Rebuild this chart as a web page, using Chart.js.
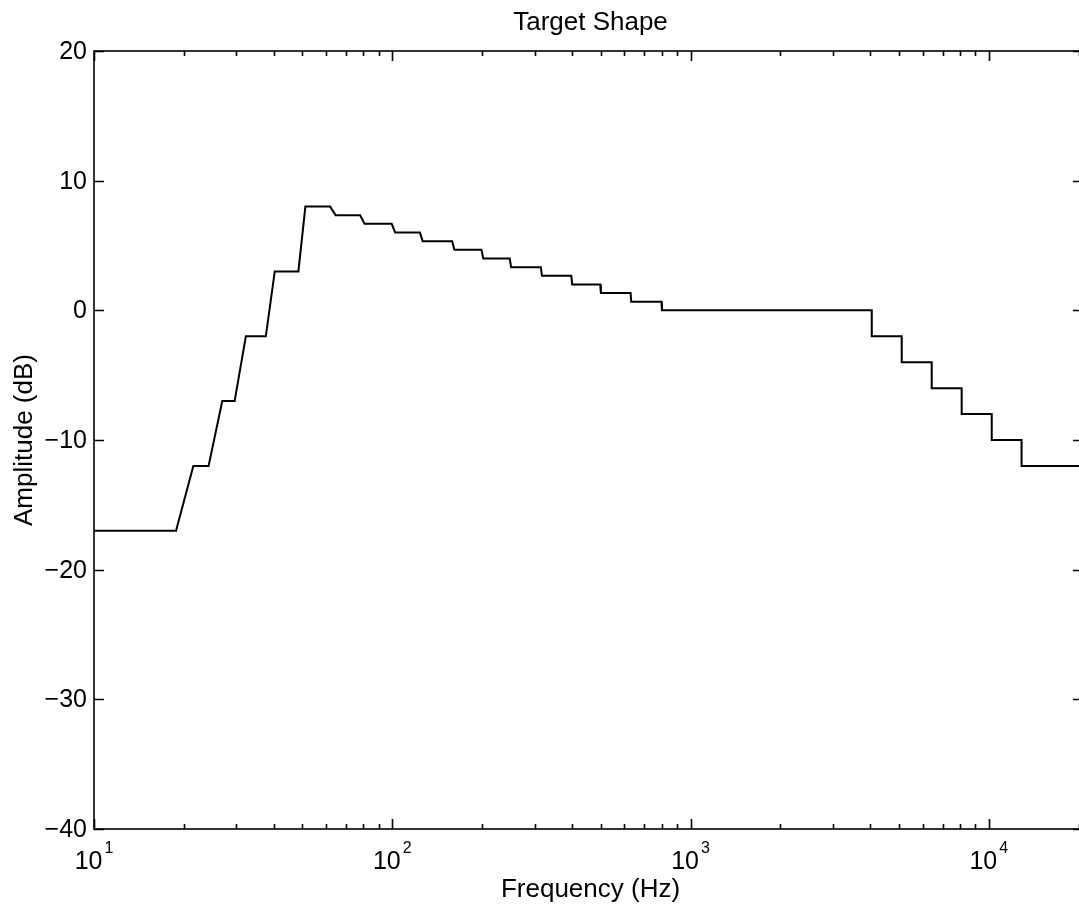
<!DOCTYPE html>
<html>
<head>
<meta charset="utf-8">
<script src="https://cdn.jsdelivr.net/npm/chart.js@4/dist/chart.umd.min.js"></script>
<style>
  html, body { margin: 0; padding: 0; background: #fff; overflow: hidden; }
  canvas { display: block; }
</style>
</head>
<body>
<canvas id="chart" width="1100" height="911"></canvas>
<script>
// corner points of the target curve
const freqHz = [
  10, 18.84, 21.53, 24.22, 26.92, 29.61, 32.30, 37.68, 40.37, 48.45,
  51.14, 61.91, 64.60, 78.06, 80.75, 99.59, 102.28, 123.82, 126.51, 158.81,
  161.50, 199.18, 201.88, 247.64, 250.33, 314.93, 317.62, 398.37, 401.07, 497.97,
  500.66, 629.86, 632.55, 799.43, 802.13, 4050, 4053, 5105, 5108, 6435,
  6438, 8110, 8113, 10230, 10233, 12880, 12883, 22050
];
const ampDb = [
  -17, -17, -12, -12, -7, -7, -2, -2, 3, 3,
  8, 8, 7.33, 7.33, 6.67, 6.67, 6.0, 6.0, 5.33, 5.33,
  4.67, 4.67, 4.0, 4.0, 3.33, 3.33, 2.67, 2.67, 2.0, 2.0,
  1.33, 1.33, 0.67, 0.67, 0, 0, -2, -2, -4, -4,
  -6, -6, -8, -8, -10, -10, -12, -12
];
const xTickExps = [1, 2, 3, 4];
const yTicks = [-40, -30, -20, -10, 0, 10, 20];

const FONT = '"Liberation Sans", Arial, Helvetica, sans-serif';

// MATLAB-like box with inward ticks and 10^n labels
const axisFrame = {
  id: 'axisFrame',
  afterDraw(chart) {
    const { ctx, chartArea: a, scales: { x, y } } = chart;
    ctx.save();
    ctx.strokeStyle = '#000';
    ctx.fillStyle = '#000';
    ctx.lineWidth = 1.6;
    ctx.strokeRect(a.left, a.top, a.right - a.left, a.bottom - a.top);

    ctx.beginPath();
    xTickExps.forEach(e => {
      for (let m = 1; m <= 9; m++) {
        const v = m * Math.pow(10, e);
        if (v < x.min || v > x.max) continue;
        const px = Math.round(x.getPixelForValue(v)) + 0.5;
        const len = m === 1 ? 10 : 5;
        ctx.moveTo(px, a.bottom); ctx.lineTo(px, a.bottom - len);
        ctx.moveTo(px, a.top); ctx.lineTo(px, a.top + len);
      }
    });
    yTicks.forEach(v => {
      const py = Math.round(y.getPixelForValue(v)) + 0.5;
      ctx.moveTo(a.left, py); ctx.lineTo(a.left + 10, py);
      ctx.moveTo(a.right, py); ctx.lineTo(a.right - 10, py);
    });
    ctx.stroke();

    // y tick labels
    ctx.font = '25px ' + FONT;
    ctx.textAlign = 'right';
    ctx.textBaseline = 'middle';
    yTicks.forEach(v => {
      const label = v < 0 ? '\u2212' + Math.abs(v) : String(v);
      ctx.fillText(label, a.left - 7, y.getPixelForValue(v) + 1);
    });

    // x tick labels as 10^n
    ctx.textAlign = 'left';
    ctx.textBaseline = 'alphabetic';
    xTickExps.forEach(e => {
      const px = x.getPixelForValue(Math.pow(10, e));
      ctx.font = '25px ' + FONT;
      const wBase = ctx.measureText('10').width;
      ctx.font = '16px ' + FONT;
      const wExp = ctx.measureText(String(e)).width;
      const left = px - (wBase + wExp + 2) / 2;
      ctx.font = '25px ' + FONT;
      ctx.fillText('10', left, 869);
      ctx.font = '16px ' + FONT;
      ctx.fillText(String(e), left + wBase + 2, 853);
    });

    // title and axis titles
    const cx = (a.left + a.right) / 2 + 2;
    ctx.textAlign = 'center';
    ctx.font = '26px ' + FONT;
    ctx.fillText('Target Shape', cx, 30);
    ctx.fillText('Frequency (Hz)', cx, 897);
    ctx.translate(32, (a.top + a.bottom) / 2);
    ctx.rotate(-Math.PI / 2);
    ctx.fillText('Amplitude (dB)', 0, 0);
    ctx.restore();
  }
};

new Chart(document.getElementById('chart'), {
  type: 'line',
  data: {
    datasets: [{
      label: 'Target',
      data: freqHz.map((f, i) => ({ x: f, y: ampDb[i] })),
      borderColor: '#000',
      borderWidth: 2,
      pointRadius: 0,
      tension: 0,
      fill: false
    }]
  },
  options: {
    responsive: false,
    animation: false,
    layout: { padding: { left: 94, top: 51, right: 17, bottom: 82 } },
    plugins: { legend: { display: false }, title: { display: false }, tooltip: { enabled: false } },
    scales: {
      x: { type: 'logarithmic', min: 10, max: 20700, display: false },
      y: { type: 'linear', min: -40, max: 20, display: false }
    }
  },
  plugins: [axisFrame]
});
</script>
</body>
</html>
